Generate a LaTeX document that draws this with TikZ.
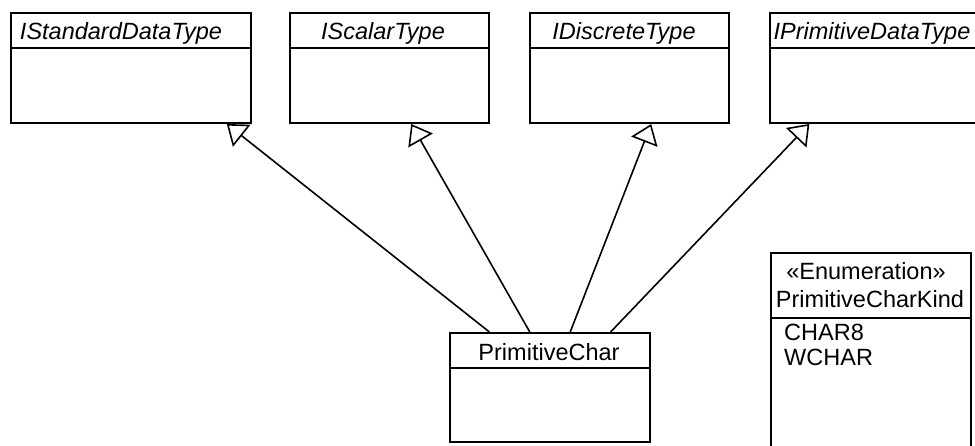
\documentclass[tikz,border=0pt]{standalone}
\usepackage{fontspec}
\setmainfont{Liberation Sans}
\usetikzlibrary{arrows.meta,calc}
\begin{document}
\begin{tikzpicture}[x=1pt,y=-1pt,
  box/.style={draw=black, line width=2pt, inner sep=0pt, anchor=north west},
  sep/.style={line width=2pt},
  lbl/.style={font=\fontsize{23.5}{28}\selectfont, inner sep=0pt, anchor=base},
  item/.style={font=\fontsize{23.5}{28}\selectfont, inner sep=0pt, anchor=base west},
  hdr/.style={font=\fontsize{23.5}{28}\selectfont\itshape, inner sep=0pt, anchor=base},
  gen/.style={line width=1.6pt, -{Triangle[open, length=19pt, width=28pt]}}
]
\useasboundingbox (0,0) rectangle (975,446);

% interface boxes
\node[box, minimum width=240pt, minimum height=110pt] (b1) at (10,12) {};
\node[box, minimum width=199pt, minimum height=110pt] (b2) at (289,12) {};
\node[box, minimum width=199pt, minimum height=110pt] (b3) at (529,12) {};
\node[box, minimum width=216pt, minimum height=110pt] (b4) at (769,12) {};
\foreach \b in {b1,b2,b3,b4}{
  \draw[sep] ([yshift=-36pt]\b.north west) -- ([yshift=-36pt]\b.north east);
}
\node[hdr] (t1) at (121,40) {IStandardDataType};
\node[hdr] (t2) at (383,40) {IScalarType};
\node[hdr] (t3) at (624,40) {IDiscreteType};
\node[hdr] (t4) at (872,40) {IPrimitiveDataType};

% PrimitiveChar
\node[box, minimum width=200pt, minimum height=109pt] (pc) at (449,332) {};
\draw[sep] ([yshift=-36pt]pc.north west) -- ([yshift=-36pt]pc.north east);
\node[lbl] (pct) at (549,360) {PrimitiveChar};

% Enumeration
\node[box, minimum width=200pt, minimum height=212pt] (en) at (770,252) {};
\draw[sep] ([yshift=-66pt]en.north west) -- ([yshift=-66pt]en.north east);
\node[lbl] (ens) at (866,280) {«Enumeration»};
\node[lbl] (enn) at (870,308) {PrimitiveCharKind};
\node[item] (e1) at (784,341) {CHAR8};
\node[item] (e2) at (784,366) {WCHAR};

% generalizations
\draw[gen] ($(pc.north west)!0.2!(pc.north east)$) -- ($(b1.south west)!0.896!(b1.south east)$);
\draw[gen] ($(pc.north west)!0.4!(pc.north east)$) -- ($(b2.south west)!0.608!(b2.south east)$);
\draw[gen] ($(pc.north west)!0.6!(pc.north east)$) -- ($(b3.south west)!0.608!(b3.south east)$);
\draw[gen] ($(pc.north west)!0.8!(pc.north east)$) -- ($(b4.south west)!0.185!(b4.south east)$);
\end{tikzpicture}
\end{document}
